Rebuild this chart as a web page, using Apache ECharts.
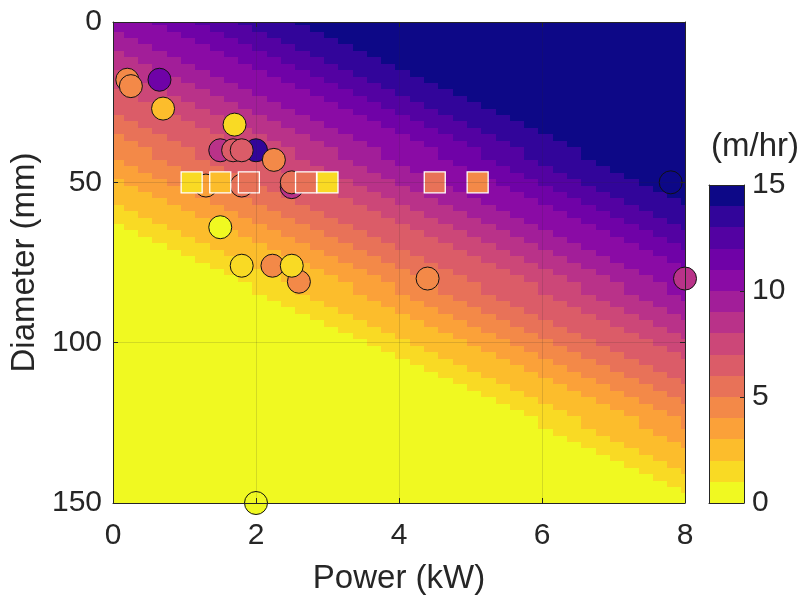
<!DOCTYPE html>
<html>
<head>
<meta charset="utf-8">
<title>Rate vs power and diameter</title>
<script src="https://cdn.jsdelivr.net/npm/echarts/dist/echarts.min.js"></script>
<style>
  html, body { margin: 0; padding: 0; background: #ffffff; }
  #chart { width: 805px; height: 597px; }
</style>
</head>
<body>
<div id="chart"></div>
<script>
// Colour of each 1 m/hr band, from 0-1 (yellow) up to 14-15 (navy)
const bandColors = [
  '#f0f921', '#f9da24', '#fcbd2c', '#fba139', '#f38948',
  '#e87258', '#db5c68', '#cc4778', '#b93289', '#a21e99',
  '#8a0ba5', '#6f02a7', '#5302a2', '#32059a', '#0d0887'
];
const powerTicks = [0, 2, 4, 6, 8];          // kW
const diameterTicks = [0, 50, 100, 150];     // mm
const colorbarTicks = [0, 5, 10, 15];        // m/hr

// Modelled rate field on a 0.2 kW x 2 mm grid.
// One string per diameter row (0, 2, ... 150 mm); each token is "band*cells",
// running from low power to high power.
const gridPowerStart = -0.05;   // left edge of the first power column, kW
const gridPowerStep = 0.2;      // kW
const gridDiameterStep = 2;     // mm
const rateRows = [
  '10*3 11*3 12*3 13*4 14*28',
  '10*4 11*3 12*3 13*4 14*27',
  '9*1 10*4 11*3 12*3 13*4 14*26',
  '9*2 10*4 11*3 12*3 13*4 14*25',
  '9*3 10*4 11*3 12*3 13*4 14*24',
  '8*1 9*3 10*4 11*3 12*3 13*4 14*23',
  '8*2 9*3 10*4 11*3 12*3 13*4 14*22',
  '8*3 9*3 10*4 11*3 12*3 13*4 14*21',
  '7*1 8*3 9*3 10*4 11*3 12*3 13*4 14*20',
  '7*2 8*3 9*3 10*4 11*3 12*3 13*4 14*19',
  '7*3 8*3 9*3 10*4 11*3 12*3 13*4 14*18',
  '6*1 7*3 8*3 9*3 10*4 11*3 12*3 13*4 14*17',
  '6*2 7*3 8*3 9*3 10*4 11*3 12*3 13*4 14*16',
  '6*3 7*3 8*3 9*3 10*4 11*3 12*3 13*4 14*15',
  '6*4 7*3 8*3 9*3 10*4 11*3 12*3 13*4 14*14',
  '5*1 6*4 7*3 8*3 9*3 10*4 11*3 12*3 13*4 14*13',
  '5*2 6*4 7*3 8*3 9*3 10*4 11*3 12*3 13*4 14*12',
  '5*3 6*4 7*3 8*3 9*3 10*4 11*3 12*3 13*4 14*11',
  '4*1 5*3 6*4 7*3 8*3 9*3 10*4 11*3 12*3 13*4 14*10',
  '4*2 5*3 6*4 7*3 8*3 9*3 10*4 11*3 12*3 13*4 14*9',
  '4*3 5*3 6*4 7*3 8*3 9*3 10*4 11*3 12*3 13*4 14*8',
  '4*3 5*3 6*4 7*3 8*3 9*3 10*4 11*3 12*3 13*4 14*8',
  '3*1 4*3 5*3 6*4 7*3 8*3 9*3 10*4 11*3 12*3 13*4 14*7',
  '3*2 4*3 5*3 6*4 7*3 8*3 9*3 10*4 11*3 12*3 13*4 14*6',
  '3*3 4*3 5*3 6*4 7*3 8*3 9*3 10*4 11*3 12*3 13*4 14*5',
  '2*1 3*3 4*3 5*3 6*4 7*3 8*3 9*3 10*4 11*3 12*3 13*4 14*4',
  '2*2 3*3 4*3 5*3 6*4 7*3 8*3 9*3 10*4 11*3 12*3 13*4 14*3',
  '2*3 3*3 4*3 5*3 6*4 7*3 8*3 9*3 10*4 11*3 12*3 13*4 14*2',
  '2*4 3*3 4*3 5*3 6*4 7*3 8*3 9*3 10*4 11*3 12*3 13*4 14*1',
  '1*1 2*4 3*3 4*3 5*3 6*4 7*3 8*3 9*3 10*4 11*3 12*3 13*4',
  '1*2 2*4 3*3 4*3 5*3 6*4 7*3 8*3 9*3 10*4 11*3 12*3 13*3',
  '1*3 2*4 3*3 4*3 5*3 6*4 7*3 8*3 9*3 10*4 11*3 12*3 13*2',
  '0*1 1*3 2*4 3*3 4*3 5*3 6*4 7*3 8*3 9*3 10*4 11*3 12*3 13*1',
  '0*2 1*3 2*4 3*3 4*3 5*3 6*4 7*3 8*3 9*3 10*4 11*3 12*3',
  '0*3 1*3 2*4 3*3 4*3 5*3 6*4 7*3 8*3 9*3 10*4 11*3 12*2',
  '0*4 1*3 2*4 3*3 4*3 5*3 6*4 7*3 8*3 9*3 10*4 11*3 12*1',
  '0*5 1*3 2*4 3*3 4*3 5*3 6*4 7*3 8*3 9*3 10*4 11*3',
  '0*6 1*3 2*4 3*3 4*3 5*3 6*4 7*3 8*3 9*3 10*4 11*2',
  '0*7 1*3 2*4 3*3 4*3 5*3 6*4 7*3 8*3 9*3 10*4 11*1',
  '0*8 1*3 2*4 3*3 4*3 5*3 6*4 7*3 8*3 9*3 10*4',
  '0*9 1*3 2*4 3*3 4*3 5*3 6*4 7*3 8*3 9*3 10*3',
  '0*10 1*3 2*4 3*3 4*3 5*3 6*4 7*3 8*3 9*3 10*2',
  '0*10 1*3 2*4 3*3 4*3 5*3 6*4 7*3 8*3 9*3 10*2',
  '0*11 1*3 2*4 3*3 4*3 5*3 6*4 7*3 8*3 9*3 10*1',
  '0*12 1*3 2*4 3*3 4*3 5*3 6*4 7*3 8*3 9*3',
  '0*13 1*3 2*4 3*3 4*3 5*3 6*4 7*3 8*3 9*2',
  '0*14 1*3 2*4 3*3 4*3 5*3 6*4 7*3 8*3 9*1',
  '0*15 1*3 2*4 3*3 4*3 5*3 6*4 7*3 8*3',
  '0*16 1*3 2*4 3*3 4*3 5*3 6*4 7*3 8*2',
  '0*17 1*3 2*4 3*3 4*3 5*3 6*4 7*3 8*1',
  '0*18 1*3 2*4 3*3 4*3 5*3 6*4 7*3',
  '0*19 1*3 2*4 3*3 4*3 5*3 6*4 7*2',
  '0*20 1*3 2*4 3*3 4*3 5*3 6*4 7*1',
  '0*21 1*3 2*4 3*3 4*3 5*3 6*4',
  '0*22 1*3 2*4 3*3 4*3 5*3 6*3',
  '0*23 1*3 2*4 3*3 4*3 5*3 6*2',
  '0*24 1*3 2*4 3*3 4*3 5*3 6*1',
  '0*25 1*3 2*4 3*3 4*3 5*3',
  '0*26 1*3 2*4 3*3 4*3 5*2',
  '0*27 1*3 2*4 3*3 4*3 5*1',
  '0*28 1*3 2*4 3*3 4*3',
  '0*29 1*3 2*4 3*3 4*2',
  '0*30 1*3 2*4 3*3 4*1',
  '0*30 1*3 2*4 3*3 4*1',
  '0*31 1*3 2*4 3*3',
  '0*32 1*3 2*4 3*2',
  '0*33 1*3 2*4 3*1',
  '0*34 1*3 2*4',
  '0*35 1*3 2*3',
  '0*36 1*3 2*2',
  '0*37 1*3 2*1',
  '0*38 1*3',
  '0*39 1*2',
  '0*40 1*1',
  '0*41',
  '0*41'
];

// Measured rates, circles (drawn back to front)
const circlePower    = [0.2, 0.25, 0.65, 0.7, 1.7, 1.5, 2.0, 1.68, 1.8, 2.25, 1.3, 1.8, 2.5, 2.5, 1.5, 1.8, 2.23, 2.6, 2.5, 4.4, 7.8, 8.0, 2.0];
const circleDiameter = [18, 20, 18, 27, 32, 40, 40, 40, 40, 43, 51, 51, 51.5, 50, 64, 76, 76, 81, 76, 80, 50, 80, 150];
const circleRate     = [4.5, 4.5, 11.5, 2.5, 1.5, 8.5, 13.5, 6.5, 6.5, 4.5, 3.5, 5.5, 8.5, 5.5, 0.5, 1.5, 4.5, 4.5, 1.5, 4.5, 14.5, 8.5, 0.5];

// Measured rates, squares
const squarePower    = [1.1, 1.5, 1.9, 2.7, 3.0, 4.5, 5.1];
const squareDiameter = [50, 50, 50, 50, 50, 50, 50];
const squareRate     = [1.5, 2.5, 5.5, 5.5, 1.5, 5.5, 4.5];

// ---------------------------------------------------------------------------
const FONT = '"Liberation Sans", Arial, Helvetica, sans-serif';
const INK = '#262626';

// Expand the run-length rows into rectangles [p0, p1, d0, d1, value]
const fieldCells = [];
rateRows.forEach((row, r) => {
  let col = 0;
  row.split(' ').forEach(token => {
    const parts = token.split('*').map(Number);
    const band = parts[0], count = parts[1];
    fieldCells.push([
      gridPowerStart + col * gridPowerStep,
      gridPowerStart + (col + count) * gridPowerStep,
      r * gridDiameterStep - gridDiameterStep / 2,
      r * gridDiameterStep + gridDiameterStep / 2,
      band + 0.5
    ]);
    col += count;
  });
});

const colorbarCells = bandColors.map((c, k) => [k, k + 1, k + 0.5]);
const circleData = circlePower.map((p, i) => [p, circleDiameter[i], circleRate[i]]);
const squareData = squarePower.map((p, i) => [p, squareDiameter[i], squareRate[i]]);
const pieces = bandColors.map((color, k) => ({ gte: k, lt: k + 1, color: color }));

function snapRect(a, b, cs) {
  const x0 = Math.round(Math.max(Math.min(a[0], b[0]), cs.x));
  const x1 = Math.round(Math.min(Math.max(a[0], b[0]), cs.x + cs.width));
  const y0 = Math.round(Math.max(Math.min(a[1], b[1]), cs.y));
  const y1 = Math.round(Math.min(Math.max(a[1], b[1]), cs.y + cs.height));
  if (x1 <= x0 || y1 <= y0) return null;
  return { x: x0, y: y0, width: x1 - x0, height: y1 - y0 };
}

function renderFieldCell(params, api) {
  const a = api.coord([api.value(0), api.value(2)]);
  const b = api.coord([api.value(1), api.value(3)]);
  const shape = snapRect(a, b, params.coordSys);
  if (!shape) return;
  return { type: 'rect', shape: shape, style: { fill: api.visual('color') } };
}

function renderColorbarCell(params, api) {
  const a = api.coord([0, api.value(0)]);
  const b = api.coord([1, api.value(1)]);
  const shape = snapRect(a, b, params.coordSys);
  if (!shape) return;
  return { type: 'rect', shape: shape, style: { fill: api.visual('color') } };
}

const frameLine = { show: true, onZero: false, lineStyle: { color: INK, width: 1 } };
const tickLabel = { fontSize: 30, color: INK, fontFamily: FONT };

const option = {
  animation: false,
  backgroundColor: '#ffffff',
  textStyle: { fontFamily: FONT },
  grid: [
    { left: 113, top: 22, width: 572, height: 481, outerBoundsMode: 'none', containLabel: false },
    { left: 709, top: 185, width: 35, height: 318, outerBoundsMode: 'none', containLabel: false }
  ],
  xAxis: [
    {
      gridIndex: 0, type: 'value', position: 'bottom', z: 6,
      min: powerTicks[0], max: powerTicks[powerTicks.length - 1],
      interval: powerTicks[1] - powerTicks[0],
      name: 'Power (kW)', nameLocation: 'middle', nameGap: 59,
      nameTextStyle: { fontSize: 33, color: INK, fontFamily: FONT },
      axisLine: frameLine,
      axisTick: { show: true, inside: true, length: 5, lineStyle: { color: INK } },
      axisLabel: Object.assign({ margin: 18 }, tickLabel),
      splitLine: { show: true, lineStyle: { color: 'rgba(38,38,38,0.15)', width: 1 } }
    },
    {
      gridIndex: 0, type: 'value', position: 'top', z: 6,
      min: powerTicks[0], max: powerTicks[powerTicks.length - 1],
      interval: powerTicks[1] - powerTicks[0],
      axisLine: frameLine,
      axisTick: { show: true, inside: true, length: 5, lineStyle: { color: INK } },
      axisLabel: { show: false }, splitLine: { show: false }
    },
    {
      gridIndex: 1, type: 'value', position: 'bottom', z: 6, min: 0, max: 1,
      axisLine: frameLine, axisTick: { show: false },
      axisLabel: { show: false }, splitLine: { show: false }
    },
    {
      gridIndex: 1, type: 'value', position: 'top', z: 6, min: 0, max: 1,
      axisLine: frameLine, axisTick: { show: false },
      axisLabel: { show: false }, splitLine: { show: false }
    }
  ],
  yAxis: [
    {
      gridIndex: 0, type: 'value', position: 'left', inverse: true, z: 6,
      min: diameterTicks[0], max: diameterTicks[diameterTicks.length - 1],
      interval: diameterTicks[1] - diameterTicks[0],
      name: 'Diameter (mm)', nameLocation: 'middle', nameGap: 60,
      nameTextStyle: { fontSize: 33, color: INK, fontFamily: FONT },
      axisLine: frameLine,
      axisTick: { show: true, inside: true, length: 5, lineStyle: { color: INK } },
      axisLabel: Object.assign({ margin: 11 }, tickLabel),
      splitLine: { show: true, lineStyle: { color: 'rgba(38,38,38,0.15)', width: 1 } }
    },
    {
      gridIndex: 0, type: 'value', position: 'right', inverse: true, z: 6,
      min: diameterTicks[0], max: diameterTicks[diameterTicks.length - 1],
      interval: diameterTicks[1] - diameterTicks[0],
      axisLine: frameLine,
      axisTick: { show: true, inside: true, length: 5, lineStyle: { color: INK } },
      axisLabel: { show: false }, splitLine: { show: false }
    },
    {
      gridIndex: 1, type: 'value', position: 'right', z: 6,
      min: colorbarTicks[0], max: colorbarTicks[colorbarTicks.length - 1],
      interval: colorbarTicks[1] - colorbarTicks[0],
      axisLine: frameLine,
      axisTick: { show: true, inside: true, length: 4, lineStyle: { color: INK } },
      axisLabel: Object.assign({ margin: 8 }, tickLabel),
      splitLine: { show: false }
    },
    {
      gridIndex: 1, type: 'value', position: 'left', z: 6,
      min: colorbarTicks[0], max: colorbarTicks[colorbarTicks.length - 1],
      axisLine: frameLine, axisTick: { show: false },
      axisLabel: { show: false }, splitLine: { show: false }
    }
  ],
  visualMap: [
    { type: 'piecewise', show: false, seriesIndex: [0], dimension: 4, pieces: pieces },
    { type: 'piecewise', show: false, seriesIndex: [1, 2, 3], dimension: 2, pieces: pieces }
  ],
  graphic: [
    {
      type: 'text', x: 755, y: 147, z: 10,
      style: {
        text: '(m/hr)', fill: INK, fontSize: 33, fontFamily: FONT,
        align: 'center', verticalAlign: 'middle', textAlign: 'center', textVerticalAlign: 'middle'
      }
    }
  ],
  series: [
    {
      type: 'custom', name: 'rate field', xAxisIndex: 0, yAxisIndex: 0, z: 1, silent: true,
      encode: { x: [0, 1], y: [2, 3] },
      renderItem: renderFieldCell, data: fieldCells
    },
    {
      type: 'scatter', name: 'circles', xAxisIndex: 0, yAxisIndex: 0, z: 4, clip: false,
      symbol: 'circle', symbolSize: 23,
      itemStyle: { borderColor: '#111111', borderWidth: 1, opacity: 1 },
      data: circleData
    },
    {
      type: 'scatter', name: 'squares', xAxisIndex: 0, yAxisIndex: 0, z: 5, clip: false,
      symbol: 'rect', symbolSize: 21,
      itemStyle: { borderColor: '#ffffff', borderWidth: 1.3, opacity: 1 },
      data: squareData
    },
    {
      type: 'custom', name: 'colorbar', xAxisIndex: 2, yAxisIndex: 2, z: 1, silent: true,
      encode: { y: [0, 1] },
      renderItem: renderColorbarCell, data: colorbarCells
    }
  ]
};

const chart = echarts.init(document.getElementById('chart'), null, { renderer: 'canvas' });
chart.setOption(option);
</script>
</body>
</html>
